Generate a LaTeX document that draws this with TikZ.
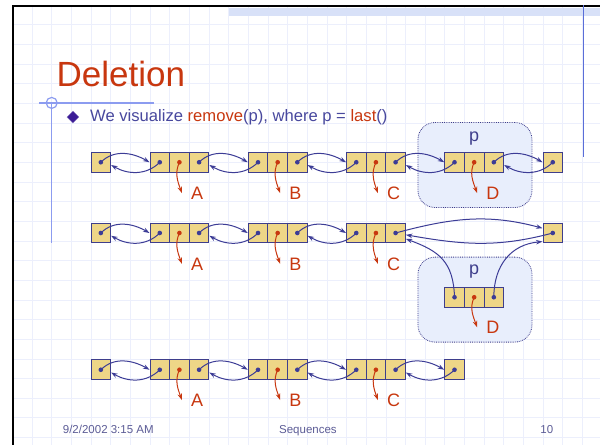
\documentclass[tikz,border=0pt]{standalone}
\usepackage{fontspec}
\setmainfont{Liberation Sans}
\usetikzlibrary{arrows.meta,shapes.geometric}

\definecolor{cellfill}{RGB}{238,214,135}
\definecolor{cellline}{RGB}{62,62,140}
\definecolor{ptrblue}{RGB}{60,60,150}
\definecolor{elemred}{RGB}{200,55,15}
\definecolor{textblue}{RGB}{72,72,158}
\definecolor{boxfill}{RGB}{232,238,252}
\definecolor{gridblue}{RGB}{236,239,252}
\definecolor{bandblue}{RGB}{216,225,248}
\definecolor{rulerblue}{RGB}{140,156,240}
\definecolor{edgeblue}{RGB}{90,110,216}
\definecolor{footblue}{RGB}{92,92,150}
\definecolor{bulletpurple}{RGB}{60,28,150}

\tikzset{
  cell/.style={draw=cellline, fill=cellfill, line width=0.9pt, minimum size=19.65pt, inner sep=0pt},
  ptrcell/.style={cell, path picture={\fill[ptrblue] (path picture bounding box.center) circle (2.3pt);}},
  elemcell/.style={cell, path picture={\fill[elemred] (path picture bounding box.center) circle (2.3pt);}},
  ptr/.style={color=ptrblue, line width=1pt, -{Stealth[length=6.5pt,width=4.5pt]}},
  elem/.style={color=elemred, line width=1pt, -{Stealth[length=6.5pt,width=4.5pt]}},
  lbl/.style={text=elemred, inner sep=0pt, font=\fontsize{18}{18}\selectfont},
  pbox/.style={draw=cellline, densely dotted, line width=0.8pt, fill=boxfill, rounded corners=17pt, minimum width=114pt, minimum height=85pt},
  foot/.style={text=footblue, inner sep=0pt, anchor=base, font=\fontsize{11.5}{12}\selectfont}
}

\begin{document}
\begin{tikzpicture}[x=19.65pt, y=19.65pt]
\useasboundingbox (-0.631,0.257) rectangle (29.903,-22.389);
\fill[white] (-0.631,0.257) rectangle (29.903,-22.389);

% slide background
\draw[gridblue, line width=0.5pt, step=1] (0,-22.389) grid (29.903,0);
\fill[bandblue] (11,-0.17) rectangle (29.903,-0.54);
\draw[line width=2pt] (29.903,-0.05) -- (0.05,-0.05) -- (0.05,-22.389);
\draw[edgeblue, line width=0.8pt] (29.05,0) -- (29.05,-7.72);
\draw[rulerblue, line width=1.2pt] (1.35,-4.98) -- (7.2,-4.98);
\draw[rulerblue, line width=1.2pt] (2,-4.98) -- (2,-12.11);
\draw[rulerblue, line width=1.2pt] (2,-4.98) circle (0.28);

% title and bullet
\node[text=elemred, inner sep=0pt, anchor=base west, font=\fontsize{35}{35}\selectfont] (title) at (2.24,-4.17) {Deletion};
\node[diamond, fill=bulletpurple, draw=bulletpurple!60, minimum size=12pt, inner sep=0pt] (bul) at (3.08,-5.7) {};
\node[text=textblue, inner sep=0pt, anchor=base west, font=\fontsize{16.6}{17}\selectfont] (intro) at (3.95,-5.95)
    {We visualize \textcolor{elemred}{remove}(p), where p = \textcolor{elemred}{last}()};

% the position p
\node[pbox] (p1box) at (23.54,-8.14) {};
\node[pbox] (p2box) at (23.54,-14.99) {};
\node[text=cellline, inner sep=0pt, font=\fontsize{18}{18}\selectfont] (p1) at (23.5,-6.8) {p};
\node[text=cellline, inner sep=0pt, font=\fontsize{18}{18}\selectfont] (p2) at (23.5,-13.57) {p};

% first list: before
\node[ptrcell] (h1) at (4.5,-8) {};
\node[ptrcell] (a1p) at (7.5,-8) {};
\node[elemcell] (a1e) at (8.5,-8) {};
\node[ptrcell] (a1n) at (9.5,-8) {};
\node[ptrcell] (b1p) at (12.5,-8) {};
\node[elemcell] (b1e) at (13.5,-8) {};
\node[ptrcell] (b1n) at (14.5,-8) {};
\node[ptrcell] (c1p) at (17.5,-8) {};
\node[elemcell] (c1e) at (18.5,-8) {};
\node[ptrcell] (c1n) at (19.5,-8) {};
\node[ptrcell] (d1p) at (22.5,-8) {};
\node[elemcell] (d1e) at (23.5,-8) {};
\node[ptrcell] (d1n) at (24.5,-8) {};
\node[ptrcell] (t1) at (27.5,-8) {};

\draw[ptr] (h1.center) to[out=45,in=150] (a1p.west);
\draw[ptr] (a1p.center) to[out=-135,in=-30] (h1.-15);
\draw[ptr] (a1n.center) to[out=45,in=150] (b1p.west);
\draw[ptr] (b1p.center) to[out=-135,in=-30] (a1n.-15);
\draw[ptr] (b1n.center) to[out=45,in=150] (c1p.west);
\draw[ptr] (c1p.center) to[out=-135,in=-30] (b1n.-15);
\draw[ptr] (c1n.center) to[out=45,in=150] (d1p.west);
\draw[ptr] (d1p.center) to[out=-135,in=-30] (c1n.-15);
\draw[ptr] (d1n.center) to[out=45,in=150] (t1.west);
\draw[ptr] (t1.center) to[out=-135,in=-30] (d1n.-15);

\node[lbl] (la1) at (9.4,-9.57) {A};
\node[lbl] (lb1) at (14.4,-9.57) {B};
\node[lbl] (lc1) at (19.4,-9.57) {C};
\node[lbl] (ld1) at (24.45,-9.57) {D};
\draw[elem] (a1e.center) to[out=-115,in=110] ([xshift=-9pt]la1.west);
\draw[elem] (b1e.center) to[out=-115,in=110] ([xshift=-9pt]lb1.west);
\draw[elem] (c1e.center) to[out=-115,in=110] ([xshift=-9pt]lc1.west);
\draw[elem] (d1e.center) to[out=-115,in=110] ([xshift=-9pt]ld1.west);

% second list: p unlinked
\node[ptrcell] (h2) at (4.5,-11.6) {};
\node[ptrcell] (a2p) at (7.5,-11.6) {};
\node[elemcell] (a2e) at (8.5,-11.6) {};
\node[ptrcell] (a2n) at (9.5,-11.6) {};
\node[ptrcell] (b2p) at (12.5,-11.6) {};
\node[elemcell] (b2e) at (13.5,-11.6) {};
\node[ptrcell] (b2n) at (14.5,-11.6) {};
\node[ptrcell] (c2p) at (17.5,-11.6) {};
\node[elemcell] (c2e) at (18.5,-11.6) {};
\node[ptrcell] (c2n) at (19.5,-11.6) {};
\node[ptrcell] (t2) at (27.5,-11.6) {};
\node[ptrcell] (d2p) at (22.5,-14.87) {};
\node[elemcell] (d2e) at (23.5,-14.87) {};
\node[ptrcell] (d2n) at (24.5,-14.87) {};

\draw[ptr] (h2.center) to[out=45,in=150] (a2p.west);
\draw[ptr] (a2p.center) to[out=-135,in=-30] (h2.-15);
\draw[ptr] (a2n.center) to[out=45,in=150] (b2p.west);
\draw[ptr] (b2p.center) to[out=-135,in=-30] (a2n.-15);
\draw[ptr] (b2n.center) to[out=45,in=150] (c2p.west);
\draw[ptr] (c2p.center) to[out=-135,in=-30] (b2n.-15);
\draw[ptr] (c2n.center) to[out=15,in=165] (t2.155);
\draw[ptr] (t2.center) to[out=-165,in=-10] (c2n.-10);
\draw[ptr] (d2p.center) to[out=92,in=-20,looseness=1.2] (c2n.-30);
\draw[ptr] (d2n.center) to[out=90,in=185,looseness=1.1] (t2.-140);

\node[lbl] (la2) at (9.4,-13.17) {A};
\node[lbl] (lb2) at (14.4,-13.17) {B};
\node[lbl] (lc2) at (19.4,-13.17) {C};
\node[lbl] (ld2) at (24.45,-16.4) {D};
\draw[elem] (a2e.center) to[out=-115,in=110] ([xshift=-9pt]la2.west);
\draw[elem] (b2e.center) to[out=-115,in=110] ([xshift=-9pt]lb2.west);
\draw[elem] (c2e.center) to[out=-115,in=110] ([xshift=-9pt]lc2.west);
\draw[elem] (d2e.center) to[out=-115,in=110] ([xshift=-9pt]ld2.west);

% third list: after
\node[ptrcell] (h3) at (4.5,-18.56) {};
\node[ptrcell] (a3p) at (7.5,-18.56) {};
\node[elemcell] (a3e) at (8.5,-18.56) {};
\node[ptrcell] (a3n) at (9.5,-18.56) {};
\node[ptrcell] (b3p) at (12.5,-18.56) {};
\node[elemcell] (b3e) at (13.5,-18.56) {};
\node[ptrcell] (b3n) at (14.5,-18.56) {};
\node[ptrcell] (c3p) at (17.5,-18.56) {};
\node[elemcell] (c3e) at (18.5,-18.56) {};
\node[ptrcell] (c3n) at (19.5,-18.56) {};
\node[ptrcell] (t3) at (22.5,-18.56) {};

\draw[ptr] (h3.center) to[out=45,in=150] (a3p.west);
\draw[ptr] (a3p.center) to[out=-135,in=-30] (h3.-15);
\draw[ptr] (a3n.center) to[out=45,in=150] (b3p.west);
\draw[ptr] (b3p.center) to[out=-135,in=-30] (a3n.-15);
\draw[ptr] (b3n.center) to[out=45,in=150] (c3p.west);
\draw[ptr] (c3p.center) to[out=-135,in=-30] (b3n.-15);
\draw[ptr] (c3n.center) to[out=45,in=150] (t3.west);
\draw[ptr] (t3.center) to[out=-135,in=-30] (c3n.-15);

\node[lbl] (la3) at (9.4,-20.1) {A};
\node[lbl] (lb3) at (14.4,-20.1) {B};
\node[lbl] (lc3) at (19.4,-20.1) {C};
\draw[elem] (a3e.center) to[out=-115,in=110] ([xshift=-9pt]la3.west);
\draw[elem] (b3e.center) to[out=-115,in=110] ([xshift=-9pt]lb3.west);
\draw[elem] (c3e.center) to[out=-115,in=110] ([xshift=-9pt]lc3.west);

% footer
\node[foot, anchor=base west] (date) at (2.56,-21.78) {9/2/2002 3:15 AM};
\node[foot] (topic) at (15.04,-21.78) {Sequences};
\node[foot] (page) at (27.2,-21.78) {10};
\end{tikzpicture}
\end{document}
